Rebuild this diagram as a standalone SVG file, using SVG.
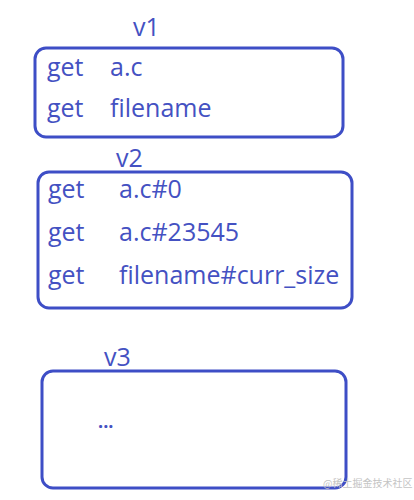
<svg xmlns="http://www.w3.org/2000/svg" width="414" height="500" viewBox="0 0 414 500">
<style>
.box{fill:none;stroke:#3e4ec6;stroke-width:3}
.t{font-family:"Open Sans","Noto Sans",sans-serif;font-size:25px;fill:#4451c2}
.lbl{font-family:"Open Sans","Noto Sans",sans-serif;font-size:25px;fill:#4451c2}
.wm{font-family:"Noto Sans CJK SC",sans-serif;font-size:10px;fill:#c4c4c4}
</style>
<rect width="414" height="500" fill="#ffffff"/>
<g id="v1">
<text class="lbl" x="133" y="36">v1</text>
<rect class="box" x="35" y="48" width="308" height="89" rx="11"/>
<text class="t" x="47" y="76">get</text><text class="t" x="110" y="76">a.c</text>
<text class="t" x="47" y="117">get</text><text class="t" x="110" y="117">filename</text>
</g>
<g id="v2">
<text class="lbl" x="116" y="167">v2</text>
<rect class="box" x="38" y="172" width="314" height="136" rx="11"/>
<text class="t" x="48" y="198">get</text><text class="t" x="119" y="198">a.c#0</text>
<text class="t" x="48" y="241">get</text><text class="t" x="119" y="241">a.c#23545</text>
<text class="t" x="48" y="284">get</text><text class="t" x="119" y="284">filename#curr_size</text>
</g>
<g id="v3">
<text class="lbl" x="104" y="366">v3</text>
<rect class="box" x="42" y="371" width="304" height="117" rx="11"/>
<text class="t" x="98" y="428" style="font-size:18px;font-weight:bold">...</text>
</g>
<g id="connectors"></g>
<text class="wm" x="323" y="487">@稀土掘金技术社区</text>
</svg>
